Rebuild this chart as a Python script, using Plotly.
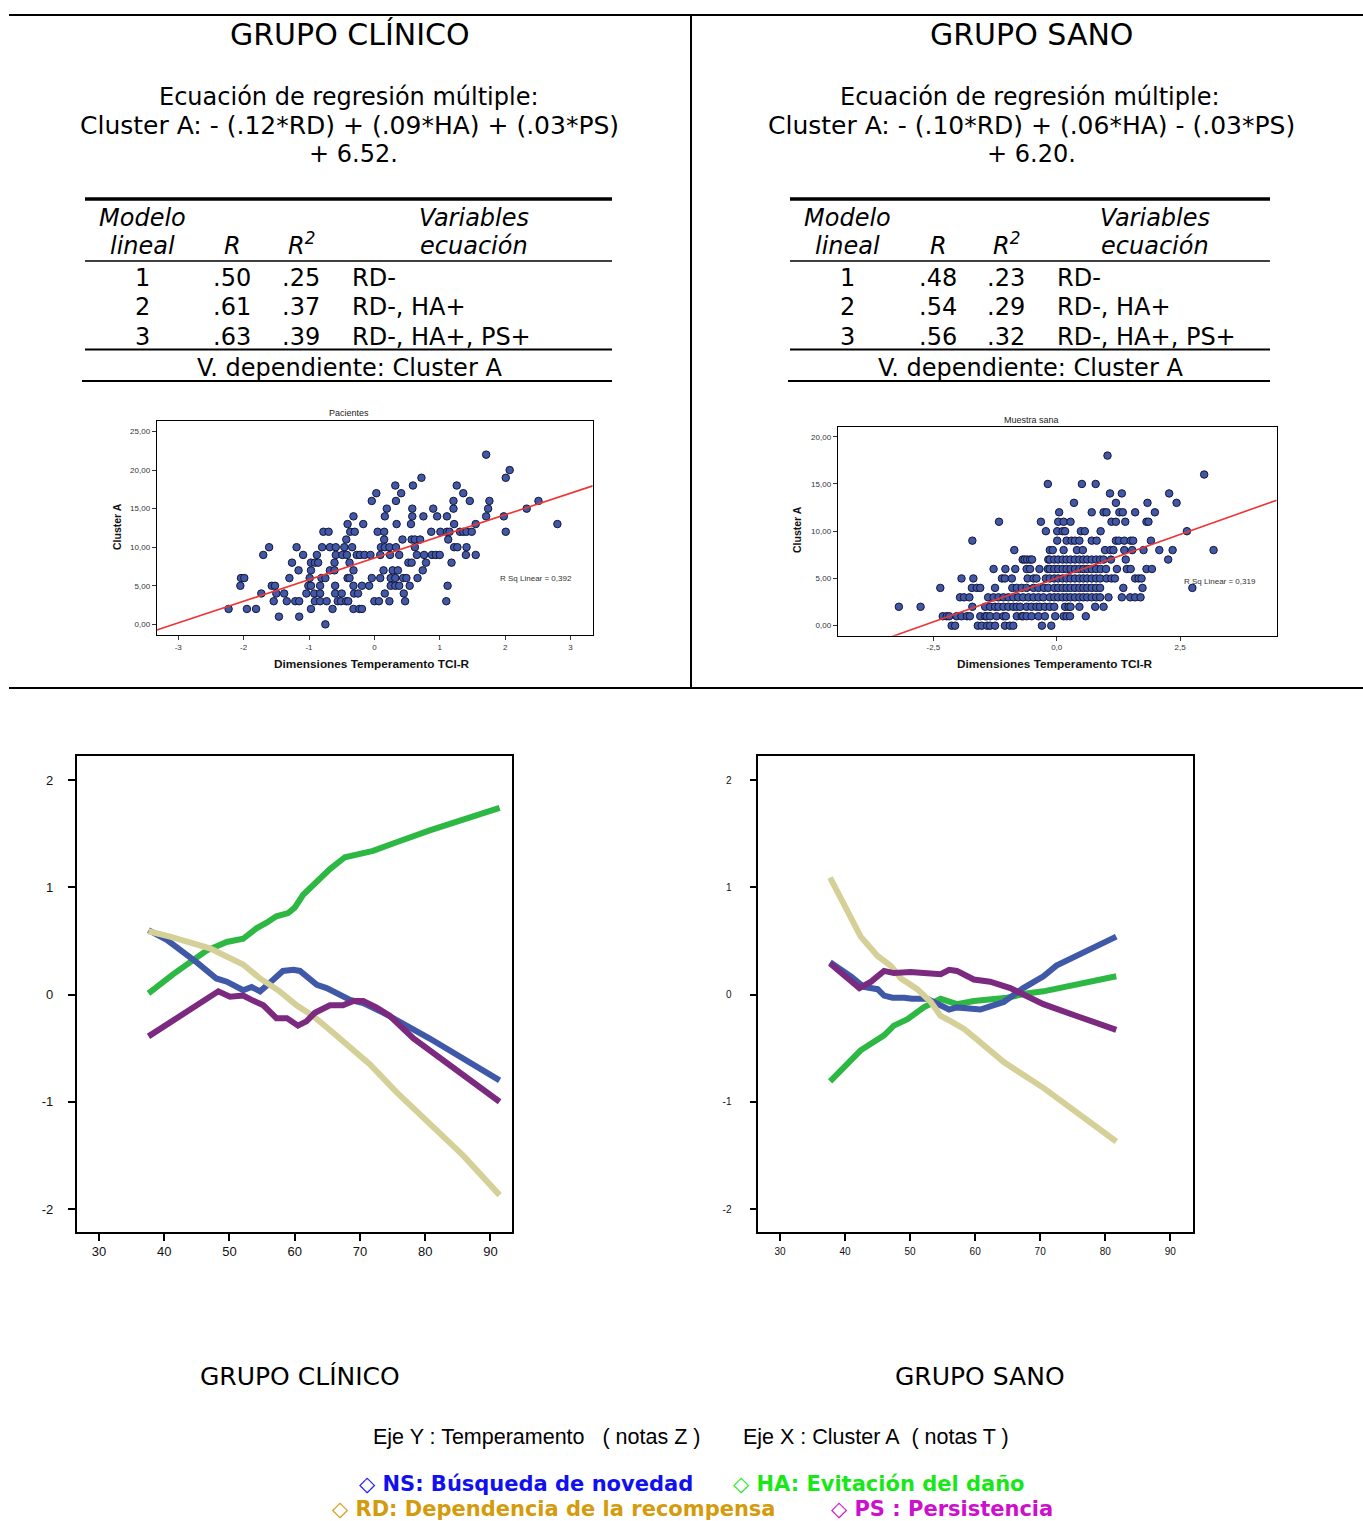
import numpy as np
import plotly.graph_objects as go

W, H = 1363, 1521

# ---------------- Scatter: Pacientes (grupo clínico) ----------------
pac_rows_y = [22, 20, 19, 18, 17, 16, 15, 14, 13, 12, 11, 10, 9, 8, 7, 6, 5, 4, 3, 2, 1, 0]
pac_rows_x = [
    [1.71],
    [2.07],
    [0.72, 2.01],
    [0.32, 0.59, 1.26],
    [0.03, 0.41, 1.36],
    [-0.04, 0.33, 1.21, 1.46, 1.76, 2.51],
    [0.19, 0.58, 0.90, 1.21, 1.74, 2.33],
    [-0.32, 0.16, 0.58, 0.75, 0.96, 1.11, 1.71, 1.98],
    [-0.41, -0.17, 0.34, 0.56, 1.22, 1.55, 2.80],
    [-0.78, -0.70, -0.37, -0.30, 0.05, 0.15, 0.87, 1.01, 1.11, 1.15, 1.31, 1.36, 1.41, 1.49, 2.01],
    [-0.43, 0.15, 0.43, 0.57, 0.62, 0.70, 1.13],
    [-1.61, -1.19, -0.80, -0.68, -0.59, -0.46, -0.34, 0.10, 0.16, 0.23, 0.33, 0.62, 1.22, 1.27, 1.41],
    [-1.70, -1.09, -0.88, -0.59, -0.49, -0.42, -0.27, -0.22, -0.15, -0.06, 0.09, 0.24, 0.38, 0.65,
     0.76, 0.88, 0.94, 1.00, 1.40, 1.55],
    [-1.26, -0.97, -0.91, -0.86, -0.61, -0.38, 0.52, 0.57, 0.79, 1.18],
    [-1.16, -0.97, -0.68, -0.61, -0.32, 0.14, 0.28, 0.36, 0.74],
    [-2.04, -1.99, -1.30, -0.99, -0.81, -0.75, -0.41, -0.38, -0.04, 0.09, 0.25, 0.32, 0.44, 0.49, 0.66],
    [-2.05, -1.57, -1.52, -1.01, -0.97, -0.83, -0.60, -0.32, -0.19, -0.08, 0.25, 0.32, 0.38, 0.54, 1.12],
    [-1.73, -1.50, -1.38, -1.04, -0.92, -0.83, -0.60, -0.50, -0.31, -0.25, 0.16, 0.45],
    [-1.54, -1.34, -1.21, -1.15, -0.91, -0.83, -0.73, -0.56, -0.51, -0.43, -0.40, 0.00, 0.07, 0.23,
     0.47, 1.10],
    [-2.23, -1.95, -1.81, -0.97, -0.64, -0.32, -0.23, -0.19],
    [-1.46, -1.15],
    [-0.75],
]
pac_fit_intercept, pac_fit_slope = 8.6, 2.8
pac_rsq = "0,392"
pac_xticks = [-3, -2, -1, 0, 1, 2, 3]
pac_xticktext = ["-3", "-2", "-1", "0", "1", "2", "3"]
pac_yticks = [0, 5, 10, 15, 20, 25]
pac_yticktext = ["0,00", "5,00", "10,00", "15,00", "20,00", "25,00"]

# ---------------- Scatter: Muestra sana (grupo sano) ----------------
sana_rows_y = [18, 16, 15, 14, 13, 12, 11, 10, 9, 8, 7, 6, 5, 4, 3, 2, 1, 0]
sana_rows_x = [
    [1.03],
    [2.99],
    [-0.18, 0.51, 0.79],
    [1.08, 1.32, 2.28],
    [0.35, 1.20, 1.84, 2.43],
    [0.05, 0.71, 0.95, 1.01, 1.27, 1.34, 1.59, 1.99],
    [-1.17, -0.32, 0.03, 0.14, 0.28, 1.11, 1.20, 1.39, 1.82, 1.86],
    [-0.22, 0.01, 0.12, 0.17, 0.49, 0.57, 0.89, 2.64],
    [-1.71, 0.01, 0.20, 0.30, 0.37, 0.46, 0.71, 0.81, 1.20, 1.26, 1.37, 1.50, 1.55, 1.91],
    [-0.86, -0.14, -0.08, 0.14, 0.41, 0.53, 0.98, 1.09, 1.15, 1.37, 1.53, 1.76, 2.08, 2.35, 3.18],
    [-0.69, -0.65, -0.60, -0.54, -0.50, -0.17, -0.14, -0.05, 0.03, 0.12, 0.20, 0.28, 0.37, 0.46, 0.54,
     0.62, 0.71, 0.80, 0.88, 0.95, 1.10, 1.40, 2.26],
    [-1.28, -1.04, -0.84, -0.61, -0.54, -0.35, -0.18, -0.14, -0.05, 0.03, 0.12, 0.20, 0.28, 0.37, 0.46,
     0.54, 0.62, 0.71, 0.80, 0.89, 1.00, 1.22, 1.42, 1.50, 1.82, 1.93],
    [-1.93, -1.69, -1.11, -1.05, -0.91, -0.59, -0.47, -0.41, -0.22, -0.14, -0.05, 0.03, 0.12, 0.20,
     0.28, 0.37, 0.46, 0.54, 0.62, 0.71, 0.80, 0.88, 1.01, 1.11, 1.18, 1.59, 1.66, 1.72],
    [-2.36, -1.72, -1.62, -1.55, -1.25, -0.90, -0.81, -0.71, -0.61, -0.47, -0.37, -0.26, -0.17, -0.05,
     0.03, 0.12, 0.20, 0.28, 0.37, 0.46, 0.54, 0.62, 0.71, 0.80, 0.88, 1.35, 1.74, 2.75],
    [-1.96, -1.88, -1.77, -1.39, -1.28, -1.18, -1.08, -0.98, -0.88, -0.78, -0.68, -0.57, -0.47, -0.37,
     -0.27, -0.14, -0.05, 0.03, 0.12, 0.20, 0.28, 0.37, 0.46, 0.54, 0.62, 0.71, 0.80, 0.88, 1.05,
     1.32, 1.49, 1.59, 1.70],
    [-3.20, -2.76, -1.71, -1.45, -1.35, -1.25, -1.18, -1.08, -0.98, -0.88, -0.81, -0.74, -0.61, -0.51,
     -0.41, -0.34, -0.24, -0.14, -0.05, 0.17, 0.24, 0.28, 0.46, 0.78, 0.95],
    [-2.31, -2.23, -2.18, -2.03, -1.93, -1.82, -1.76, -1.55, -1.45, -1.42, -1.35, -1.22, -1.08, -1.03,
     -0.81, -0.71, -0.68, -0.61, -0.51, -0.37, -0.24, -0.03, 0.14, 0.20, 0.27, 0.59],
    [-2.13, -2.06, -1.60, -1.52, -1.41, -1.35, -1.25, -1.05, -0.95, -0.88, -0.30, -0.11],
]
sana_fit_intercept, sana_fit_slope = 5.03, 1.85
sana_rsq = "0,319"
sana_xticks = [-2.5, 0, 2.5]
sana_xticktext = ["-2,5", "0,0", "2,5"]
sana_yticks = [0, 5, 10, 15, 20]
sana_yticktext = ["0,00", "5,00", "10,00", "15,00", "20,00"]

# ---------------- Curves: grupo clínico (x = Cluster A T, y = z) ----------------
clin_ns_x = [37.6, 40.4, 45.0, 48.0, 49.6, 52.1, 53.4, 54.7, 56.2, 58.2, 59.8, 60.8, 63.4, 64.9, 68.5, 70.5, 73.6, 80.7, 91.4]
clin_ns_y = [0.60, 0.51, 0.30, 0.15, 0.12, 0.04, 0.07, 0.03, 0.11, 0.22, 0.23, 0.22, 0.09, 0.06, -0.05, -0.08, -0.17, -0.41, -0.80]
clin_ha_x = [37.6, 41.4, 46.5, 49.6, 52.1, 54.2, 55.7, 57.2, 59.0, 60.0, 61.3, 63.4, 65.4, 67.7, 69.5, 72.0, 75.6, 80.7, 91.4]
clin_ha_y = [0.01, 0.19, 0.41, 0.49, 0.52, 0.62, 0.67, 0.73, 0.76, 0.81, 0.93, 1.05, 1.17, 1.28, 1.31, 1.34, 1.42, 1.53, 1.74]
clin_rd_x = [37.6, 40.9, 47.0, 49.6, 52.1, 54.7, 57.7, 60.3, 62.8, 65.4, 67.9, 69.5, 71.5, 75.6, 80.7, 85.8, 91.4]
clin_rd_y = [0.59, 0.54, 0.43, 0.36, 0.28, 0.15, 0.03, -0.10, -0.20, -0.33, -0.46, -0.55, -0.65, -0.91, -1.20, -1.50, -1.87]
clin_ps_x = [37.6, 42.4, 48.3, 50.1, 52.1, 53.4, 55.2, 57.2, 58.8, 60.5, 61.8, 63.1, 65.4, 67.4, 69.0, 70.5, 72.5, 74.6, 78.2, 91.4]
clin_ps_y = [-0.39, -0.20, 0.03, -0.02, -0.01, -0.05, -0.10, -0.22, -0.22, -0.29, -0.25, -0.17, -0.10, -0.10, -0.06, -0.06, -0.12, -0.20, -0.41, -1.00]

# ---------------- Curves: grupo sano ----------------
sano_ns_x = [37.7, 40.9, 42.9, 45.0, 46.0, 47.3, 49.1, 50.3, 52.6, 54.7, 56.0, 57.2, 58.8, 60.8, 62.3, 64.4, 67.4, 70.5, 72.5, 75.6, 81.7]
sano_ns_y = [0.30, 0.17, 0.07, 0.05, -0.01, -0.03, -0.03, -0.04, -0.04, -0.10, -0.14, -0.12, -0.13, -0.14, -0.11, -0.07, 0.06, 0.17, 0.27, 0.36, 0.54]
sano_ha_x = [37.7, 39.9, 42.4, 46.0, 47.5, 49.6, 52.1, 54.7, 57.2, 59.8, 62.3, 64.9, 67.9, 70.5, 81.7]
sano_ha_y = [-0.81, -0.67, -0.52, -0.38, -0.29, -0.23, -0.12, -0.04, -0.09, -0.06, -0.05, -0.03, 0.01, 0.03, 0.17]
sano_rd_x = [37.7, 42.4, 45.0, 47.0, 48.6, 51.1, 53.2, 54.7, 56.3, 58.3, 60.3, 62.3, 64.4, 70.5, 75.6, 81.7]
sano_rd_y = [1.09, 0.54, 0.36, 0.27, 0.15, 0.05, -0.07, -0.20, -0.25, -0.32, -0.42, -0.52, -0.63, -0.87, -1.10, -1.37]
sano_ps_x = [37.7, 40.4, 42.2, 44.0, 46.0, 47.5, 50.1, 52.1, 54.7, 56.0, 57.2, 59.8, 62.3, 65.4, 70.5, 75.6, 81.7]
sano_ps_y = [0.29, 0.15, 0.06, 0.12, 0.22, 0.20, 0.21, 0.20, 0.19, 0.23, 0.22, 0.14, 0.12, 0.06, -0.09, -0.20, -0.33]

curve_ticks_x = [30, 40, 50, 60, 70, 80, 90]
curve_ticktext_x = ["30", "40", "50", "60", "70", "80", "90"]
curve_ticks_y = [-2, -1, 0, 1, 2]
curve_ticktext_y = ["-2", "-1", "0", "1", "2"]

# ---------------- Table texts ----------------
clin_R = [".50", ".61", ".63"]
clin_R2 = [".25", ".37", ".39"]
sano_R = [".48", ".54", ".56"]
sano_R2 = [".23", ".29", ".32"]
model_vars = ["RD-", "RD-, HA+", "RD-, HA+, PS+"]
model_ids = ["1", "2", "3"]

COL_NS = "#3F58A8"
COL_HA = "#2DB843"
COL_RD = "#D5CF98"
COL_PS = "#7B2A7F"

# ---------------- helpers ----------------
def fx(px):
    return px / W


def fy(py):
    return 1 - py / H


fig = go.Figure()
annotations = []
shapes = []


def ann(text, x, y, size, family="DejaVu Sans", color="#000", xanchor="center", yanchor="middle", angle=0):
    annotations.append(dict(text=text, x=fx(x), y=fy(y), xref="paper", yref="paper",
                            showarrow=False, xanchor=xanchor, yanchor=yanchor, textangle=angle,
                            font=dict(size=size, family=family, color=color)))


def hline(x0, x1, y, w=2, color="#000"):
    shapes.append(dict(type="line", xref="paper", yref="paper", x0=fx(x0), x1=fx(x1),
                       y0=fy(y), y1=fy(y), line=dict(color=color, width=w)))


def vline(x, y0, y1, w=2, color="#000"):
    shapes.append(dict(type="line", xref="paper", yref="paper", x0=fx(x), x1=fx(x),
                       y0=fy(y0), y1=fy(y1), line=dict(color=color, width=w)))


# ---------------- scatter traces ----------------
def add_scatter(rows_y, rows_x, a, b, xr, xaxis, yaxis):
    xs, ys = [], []
    for yv, row in zip(rows_y, rows_x):
        xs.extend(row)
        ys.extend([yv] * len(row))
    fig.add_trace(go.Scatter(x=xs, y=ys, mode="markers", xaxis=xaxis, yaxis=yaxis,
                             marker=dict(size=7.5, color="#4158A6", line=dict(color="#15163A", width=1)),
                             showlegend=False, hoverinfo="skip"))
    lx = np.array(xr)
    fig.add_trace(go.Scatter(x=lx, y=a + b * lx, mode="lines", xaxis=xaxis, yaxis=yaxis,
                             line=dict(color="#EE3434", width=1.6), showlegend=False, hoverinfo="skip"))


pac_xr = [-3.33, 3.34]
sana_xr = [-4.44, 4.46]
add_scatter(pac_rows_y, pac_rows_x, pac_fit_intercept, pac_fit_slope, pac_xr, "x", "y")
add_scatter(sana_rows_y, sana_rows_x, sana_fit_intercept, sana_fit_slope, sana_xr, "x2", "y2")

# ---------------- curve traces ----------------
def add_curves(series, xaxis, yaxis):
    for xs, ys, col in series:
        fig.add_trace(go.Scatter(x=xs, y=ys, mode="lines", xaxis=xaxis, yaxis=yaxis,
                                 line=dict(color=col, width=6, shape="linear"),
                                 showlegend=False, hoverinfo="skip"))


add_curves([(clin_ha_x, clin_ha_y, COL_HA), (clin_ns_x, clin_ns_y, COL_NS),
            (clin_rd_x, clin_rd_y, COL_RD), (clin_ps_x, clin_ps_y, COL_PS)], "x3", "y3")
add_curves([(sano_ha_x, sano_ha_y, COL_HA), (sano_ns_x, sano_ns_y, COL_NS),
            (sano_rd_x, sano_rd_y, COL_RD), (sano_ps_x, sano_ps_y, COL_PS)], "x4", "y4")

# ---------------- axes ----------------
sc_font = dict(size=8, family="Liberation Sans", color="#333")


def sc_axis(domain, rng, tickvals, ticktext, anchor):
    return dict(domain=domain, range=rng, tickvals=tickvals, ticktext=ticktext, anchor=anchor,
                showline=True, mirror=True, linecolor="#000", linewidth=1, ticks="outside",
                ticklen=4, tickcolor="#333", showgrid=False, zeroline=False, tickfont=sc_font,
                fixedrange=True)


def cv_axis(domain, rng, tickvals, ticktext, anchor, size, standoff):
    return dict(domain=domain, range=rng, tickvals=tickvals, ticktext=ticktext, anchor=anchor,
                showline=True, mirror=True, linecolor="#000", linewidth=1.6, ticks="outside",
                ticklen=7, tickwidth=1.5, tickcolor="#000", showgrid=False, zeroline=False,
                tickfont=dict(size=size, family="Liberation Sans", color="#111"),
                ticklabelstandoff=standoff, fixedrange=True)


layout = dict(
    width=W, height=H, margin=dict(l=0, r=0, t=0, b=0),
    paper_bgcolor="white", plot_bgcolor="white", showlegend=False,
    xaxis=sc_axis([fx(156.7), fx(592.7)], pac_xr, pac_xticks, pac_xticktext, "y"),
    yaxis=sc_axis([fy(635), fy(420.7)], [-1.38, 26.4], pac_yticks, pac_yticktext, "x"),
    xaxis2=sc_axis([fx(837.7), fx(1276.7)], sana_xr, sana_xticks, sana_xticktext, "y2"),
    yaxis2=sc_axis([fy(635.7), fy(426.7)], [-1.06, 21.06], sana_yticks, sana_yticktext, "x2"),
    xaxis3=cv_axis([fx(76.7), fx(512)], [26.6, 93.3], curve_ticks_x, curve_ticktext_x, "y3", 13, 0),
    yaxis3=cv_axis([fy(1232), fy(756)], [-2.214, 2.224], curve_ticks_y, curve_ticktext_y, "x3", 13, 12),
    xaxis4=cv_axis([fx(758.3), fx(1193)], [26.66, 93.5], curve_ticks_x, curve_ticktext_x, "y4", 10, 2),
    yaxis4=cv_axis([fy(1232), fy(756)], [-2.214, 2.224], curve_ticks_y, curve_ticktext_y, "x4", 10, 16),
)

# ---------------- scatter labels ----------------
ann("Pacientes", 349, 413, 9, "Liberation Sans", "#222")
ann("Muestra sana", 1031, 420, 9, "Liberation Sans", "#222")
ann("<b>Cluster A</b>", 117, 527, 10.5, "Liberation Sans", "#111", angle=-90)
ann("<b>Cluster A</b>", 797, 530, 10.5, "Liberation Sans", "#111", angle=-90)
ann("<b>Dimensiones Temperamento TCI-R</b>", 372, 664, 11.8, "Liberation Sans", "#111")
ann("<b>Dimensiones Temperamento TCI-R</b>", 1055, 664, 11.8, "Liberation Sans", "#111")
ann("R Sq Linear = " + pac_rsq, 498, 579, 8, "Liberation Sans", "#333", xanchor="left")
ann("R Sq Linear = " + sana_rsq, 1182, 581, 8, "Liberation Sans", "#333", xanchor="left")

# ---------------- headers ----------------
ann("GRUPO CLÍNICO", 350, 35, 30)
ann("Ecuación de regresión múltiple:", 349, 97, 24)
ann("Cluster A: - (.12*RD) + (.09*HA) + (.03*PS)", 349, 126, 25)
ann("+ 6.52.", 353, 154, 24)
ann("GRUPO SANO", 1031, 35, 30)
ann("Ecuación de regresión múltiple:", 1030, 97, 24)
ann("Cluster A: - (.10*RD) + (.06*HA) - (.03*PS)", 1031, 126, 25)
ann("+ 6.20.", 1031, 154, 24)

# ---------------- tables ----------------
row_y = [278, 307, 337]
TS = 24


def table(xm, xr, xr2, xv_c, xv_l, xdep, Rv, R2v, x0, x1, x0b):
    ann("<i>Modelo</i>", xm, 218, TS)
    ann("<i>lineal</i>", xm, 246, TS)
    ann("<i>R</i>", xr, 246, TS)
    ann("<i>R<sup>2</sup></i>", xr2, 244, TS)
    ann("<i>Variables</i>", xv_c, 218, TS)
    ann("<i>ecuación</i>", xv_c, 246, TS)
    for i in range(3):
        ann(model_ids[i], xm, row_y[i], TS)
        ann(Rv[i], xr, row_y[i], TS)
        ann(R2v[i], xr2, row_y[i], TS)
        ann(model_vars[i], xv_l, row_y[i], TS, xanchor="left")
    ann("V. dependiente: Cluster A", xdep, 368, TS)
    hline(x0, x1, 199, 3.5)
    hline(x0, x1, 261, 1.6)
    hline(x0, x1, 349.5, 2)
    hline(x0b, x1, 381, 2)


table(142, 232, 301, 474, 350, 349, clin_R, clin_R2, 85, 612, 82)
table(847, 938, 1006, 1155, 1055, 1030, sano_R, sano_R2, 790, 1270, 788)

# ---------------- frame lines ----------------
hline(9, 1363, 15, 2)
vline(691, 15, 688, 2)
hline(9, 1363, 688, 2)

# ---------------- bottom texts ----------------
ann("GRUPO CLÍNICO", 300, 1376, 25)
ann("GRUPO SANO", 980, 1376, 25)
nb = "\u00a0"
ann("Eje Y : Temperamento" + nb * 3 + "( notas Z )", 371, 1437, 21.5, "Liberation Sans", xanchor="left")
ann("Eje X : Cluster A" + nb * 2 + "( notas T )", 741, 1437, 21.5, "Liberation Sans", xanchor="left")
ann("<b>◇ NS: Búsqueda de novedad</b>", 357, 1484, 21, "DejaVu Sans", "#1010F0", xanchor="left")
ann("<b>◇ HA: Evitación del daño</b>", 731, 1484, 21, "DejaVu Sans", "#18E818", xanchor="left")
ann("<b>◇ RD: Dependencia de la recompensa</b>", 330, 1509, 21, "DejaVu Sans", "#D49B0C", xanchor="left")
ann("<b>◇ PS : Persistencia</b>", 829, 1509, 21, "DejaVu Sans", "#CC10CC", xanchor="left")

layout["annotations"] = annotations
layout["shapes"] = shapes
fig.update_layout(**layout)
fig.write_html("out.html")
